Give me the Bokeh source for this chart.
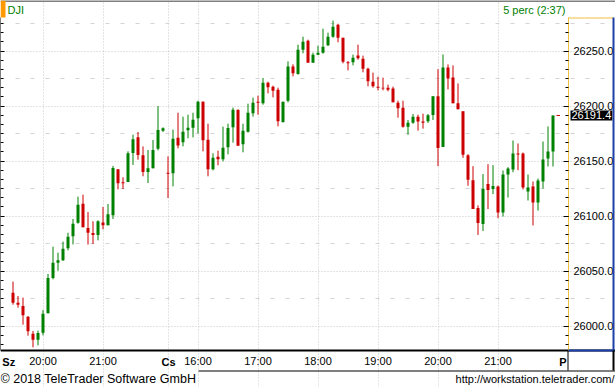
from bokeh.plotting import figure
from bokeh.models import (Range1d, LinearAxis, FixedTicker, SingleIntervalTicker, Grid,
                          Label, BoxAnnotation, ColumnDataSource, PrintfTickFormatter)
from bokeh.embed import file_html
from bokeh.resources import INLINE

# ---- data: 5-minute DJI candles ----
opens = [26030.3, 26021.2, 26018.2, 26008.5, 25993.0, 25987.6, 25993.9, 26011.5, 26043.6, 26057.6,
         26059.7, 26070.6, 26081.5, 26093.9, 26111.2, 26089.0, 26084.5, 26082.7, 26094.2, 26091.5,
         26100.6, 26142.4, 26130.6, 26130.9, 26157.3, 26171.5, 26155.2, 26140.0, 26143.3, 26161.2,
         26177.6, 26139.4, 26138.8, 26171.2, 26167.0, 26177.9, 26180.3, 26188.8, 26203.9, 26169.4,
         26142.4, 26153.9, 26151.5, 26162.4, 26180.6, 26196.7, 26165.2, 26176.7, 26193.3, 26203.9,
         26202.4, 26221.2, 26217.6, 26214.8, 26185.5, 26204.8, 26235.8, 26229.1, 26251.2, 26259.4,
         26239.4, 26246.7, 26248.5, 26255.2, 26263.0, 26273.9, 26262.1, 26239.7, 26239.7, 26245.8,
         26243.0, 26233.9, 26222.1, 26217.6, 26216.7, 26216.7, 26215.8, 26203.0, 26198.5, 26181.2,
         26184.8, 26190.3, 26185.8, 26186.1, 26191.8, 26208.8, 26162.8, 26235.0, 26226.0, 26202.4,
         26195.2, 26155.3, 26132.6, 26107.3, 26092.7, 26129.0, 26124.5, 26126.8, 26103.2, 26137.7,
         26142.3, 26156.8, 26156.8, 26122.3, 26126.8, 26112.3, 26131.4, 26152.3, 26158.6]
highs = [26040.3, 26027.3, 26025.8, 26009.0, 25995.5, 25995.8, 26014.5, 26047.3, 26072.1, 26066.7,
         26076.7, 26084.8, 26097.3, 26117.6, 26119.4, 26103.6, 26095.2, 26096.1, 26108.2, 26110.9,
         26145.5, 26142.4, 26135.2, 26158.8, 26173.9, 26176.4, 26163.3, 26160.0, 26169.1, 26200.0,
         26180.6, 26154.2, 26178.5, 26193.9, 26190.3, 26192.1, 26193.9, 26204.8, 26204.2, 26183.9,
         26157.0, 26159.4, 26181.2, 26183.9, 26198.5, 26196.7, 26183.9, 26202.1, 26207.6, 26209.4,
         26225.5, 26222.1, 26218.5, 26216.7, 26203.9, 26240.6, 26237.9, 26255.8, 26263.0, 26260.3,
         26248.5, 26254.8, 26270.3, 26266.7, 26277.6, 26274.8, 26262.1, 26240.9, 26246.7, 26255.8,
         26245.8, 26234.8, 26230.3, 26226.7, 26225.8, 26219.4, 26217.6, 26204.8, 26204.8, 26187.3,
         26192.7, 26192.1, 26193.0, 26192.7, 26208.8, 26233.5, 26246.8, 26237.8, 26236.9, 26220.5,
         26195.2, 26156.2, 26145.3, 26109.7, 26138.1, 26147.1, 26146.2, 26127.7, 26141.4, 26144.4,
         26168.6, 26165.9, 26157.7, 26137.7, 26131.4, 26134.1, 26167.7, 26181.4, 26191.4]
lows = [26019.4, 26016.7, 26001.2, 25991.2, 25980.6, 25982.4, 25991.5, 26011.5, 26042.4, 26050.3,
        26059.1, 26068.8, 26074.2, 26093.0, 26089.7, 26074.0, 26074.5, 26077.9, 26087.9, 26091.5,
        26097.3, 26124.2, 26124.5, 26130.9, 26146.4, 26151.2, 26136.1, 26130.0, 26143.3, 26159.7,
        26176.4, 26116.4, 26127.0, 26161.5, 26163.3, 26170.6, 26171.5, 26175.2, 26158.8, 26136.1,
        26141.5, 26146.1, 26149.7, 26156.1, 26166.7, 26163.9, 26157.9, 26175.8, 26190.3, 26192.1,
        26201.2, 26211.5, 26207.9, 26181.5, 26184.8, 26203.3, 26227.0, 26228.5, 26247.9, 26239.4,
        26239.4, 26246.1, 26247.6, 26254.5, 26262.1, 26257.9, 26238.8, 26232.4, 26237.0, 26242.1,
        26230.6, 26217.9, 26216.7, 26214.2, 26214.2, 26213.3, 26203.3, 26189.4, 26180.3, 26173.9,
        26183.9, 26177.6, 26179.4, 26184.6, 26187.3, 26145.3, 26162.8, 26215.1, 26202.4, 26197.0,
        26152.9, 26127.5, 26106.3, 26082.8, 26086.4, 26106.3, 26119.9, 26098.0, 26099.5, 26116.8,
        26139.8, 26141.7, 26124.1, 26114.1, 26091.4, 26105.0, 26125.0, 26145.0, 26145.0]
closes = [26021.2, 26019.4, 26009.7, 25995.2, 25987.6, 25993.6, 26011.2, 26043.6, 26057.6, 26059.7,
          26070.3, 26081.2, 26093.0, 26110.3, 26089.7, 26084.8, 26082.7, 26095.2, 26091.5, 26101.5,
          26143.6, 26129.7, 26129.7, 26157.0, 26169.7, 26155.5, 26140.0, 26143.3, 26160.0, 26178.2,
          26179.7, 26138.5, 26170.3, 26164.2, 26176.7, 26180.3, 26187.6, 26203.9, 26168.8, 26142.4,
          26153.0, 26151.5, 26162.1, 26180.0, 26196.7, 26163.9, 26177.6, 26193.9, 26203.0, 26203.0,
          26221.2, 26217.0, 26213.9, 26186.1, 26203.9, 26235.8, 26229.7, 26251.2, 26258.5, 26239.4,
          26246.7, 26248.5, 26253.9, 26263.0, 26272.1, 26262.1, 26240.3, 26238.8, 26243.9, 26243.3,
          26233.9, 26222.4, 26217.9, 26216.7, 26215.8, 26214.8, 26203.3, 26197.9, 26181.2, 26184.8,
          26190.3, 26185.8, 26184.8, 26191.5, 26208.8, 26161.9, 26235.0, 26225.1, 26202.4, 26197.0,
          26155.6, 26132.9, 26106.3, 26093.7, 26124.5, 26123.6, 26127.2, 26103.2, 26137.7, 26143.2,
          26156.8, 26155.9, 26125.9, 26125.9, 26112.3, 26132.3, 26151.4, 26158.6, 26191.4]

time_ticks = [6, 18, 37, 49, 61, 73, 85, 97]
time_labels = ["20:00", "21:00", "16:00", "17:00", "18:00", "19:00", "20:00", "21:00"]
day_ticks = [-0.85, 31.1, 110.0]
day_labels = ["Sz", "Cs", "P"]
vgrid_ticks = [6, 18, 31, 37, 49, 61, 73, 85, 97]
price_ticks = [26000, 26050, 26100, 26150, 26200, 26250]
half_ticks = [26025, 26075, 26125, 26175, 26225, 26275]

GREEN = "#008000"
RED = "#cc0000"
YELLOW = "#f0c040"
BLUE = "#1c3fa8"
GRID = "#c8c8c8"
FONT = "Liberation Sans"

# ---- canvas geometry (pixels) ----
W, H = 615, 387
PL, PR, PT, PB = 0, 568, 17, 350      # plot area edges


def xv(px):            # canvas x -> candle index
    return (px - 12.5) / 5.0


def yv(py):            # canvas y -> price
    return 26000.0 + (325.5 - py) / 1.1


n = len(opens)
idx = list(range(n))
src = ColumnDataSource(dict(
    x=idx, high=highs, low=lows,
    top=[max(o, c) for o, c in zip(opens, closes)],
    bottom=[min(o, c) for o, c in zip(opens, closes)],
    color=[GREEN if c >= o else RED for o, c in zip(opens, closes)],
))

p = figure(width=W, height=H, output_backend="svg", toolbar_location=None,
           x_range=Range1d(xv(0), xv(W)), y_range=Range1d(yv(H), yv(0)),
           x_axis_location=None, y_axis_location=None, min_border=0)
p.outline_line_color = None
p.background_fill_color = "white"
p.border_fill_color = "white"
p.grid.visible = False

xb = (xv(PL), xv(PR))
yb = (yv(PB), yv(PT))

# grids limited to the plot area
p.add_layout(Grid(dimension=0, ticker=FixedTicker(ticks=vgrid_ticks), bounds=yb,
                  grid_line_color=GRID, grid_line_dash="1 2"))
p.add_layout(Grid(dimension=1, ticker=FixedTicker(ticks=price_ticks), bounds=xb,
                  grid_line_color=GRID, grid_line_dash="1 2"))
p.add_layout(Grid(dimension=1, ticker=FixedTicker(ticks=half_ticks), bounds=xb,
                  grid_line_color="#d4d4d4", grid_line_dash="4 11"))

# right price axis
ya = LinearAxis(fixed_location=xv(PR), bounds=yb,
                ticker=SingleIntervalTicker(interval=50, num_minor_ticks=6),
                formatter=PrintfTickFormatter(format="%.1f"),
                major_tick_in=5, major_tick_out=0, minor_tick_in=3, minor_tick_out=0,
                axis_line_color=YELLOW, major_tick_line_color="black",
                minor_tick_line_color="black", major_label_standoff=5,
                major_label_text_font=FONT, major_label_text_font_size="11px",
                major_label_text_color="black")
p.add_layout(ya, "right")

# left tick-only axis
la = LinearAxis(fixed_location=xv(PL), bounds=yb,
                ticker=SingleIntervalTicker(interval=50, num_minor_ticks=6),
                major_label_text_color=None,
                major_tick_in=4, major_tick_out=0, minor_tick_in=3, minor_tick_out=0,
                axis_line_color="black", major_tick_line_color="black",
                minor_tick_line_color="black")
p.add_layout(la, "left")

# bottom time axis
xa = LinearAxis(fixed_location=yv(PB), bounds=(xv(0), xv(W)),
                ticker=FixedTicker(ticks=time_ticks),
                major_label_overrides={t: l for t, l in zip(time_ticks, time_labels)},
                major_tick_in=0, major_tick_out=0, minor_tick_line_color=None,
                axis_line_width=2, axis_line_color="black", major_label_standoff=4,
                major_label_text_font=FONT, major_label_text_font_size="11px",
                major_label_text_color="black")
p.add_layout(xa, "below")

# candles
p.segment(x0="x", y0="low", x1="x", y1="high", line_color="color", line_width=1, source=src)
p.vbar(x="x", width=0.6, top="top", bottom="bottom", fill_color="color",
       line_color=None, source=src)

# last price marker
last = closes[-1]
p.segment(x0=[n - 1 + 0.7], x1=[n - 1 + 1.4], y0=[last], y1=[last], line_color=RED, line_width=1)


# frame decorations
def box(l, r, t, b, color):
    p.add_layout(BoxAnnotation(left=l, right=r, top=t, bottom=b, left_units="canvas",
                               right_units="canvas", top_units="canvas", bottom_units="canvas",
                               fill_color=color, fill_alpha=1, line_color=None))


box(0, W, 0, 1, "black")
box(0, 5, 0, 17, "#ff9900")
box(PR, 613, PT, PT + 1, YELLOW)
box(612, 614, PT, PB, BLUE)
box(PR, 614, PB - 1, PB + 1, BLUE)
box(PR - 1, PR, PB, 370, "black")
box(198, W, 370, 371, "black")
box(612, 614, PB, 370, "black")

p.add_layout(Label(x=570, x_units="canvas", y=last, y_units="data", text=f"{last:.1f}",
                   text_color="white", background_fill_color="black",
                   background_fill_alpha=1.0, text_baseline="middle", padding=1,
                   text_font=FONT, text_font_size="11px"))

# day labels on the time axis
for d, t in zip(day_ticks, day_labels):
    p.add_layout(Label(x=d, x_units="data", y=361, y_units="canvas", text=t, text_align="center",
                       text_baseline="middle", text_font=FONT, text_font_size="11px",
                       text_font_style="bold", text_color="black"))

# header / footer texts
p.add_layout(Label(x=7, y=9, x_units="canvas", y_units="canvas", text="DJI", text_color=GREEN,
                   text_font=FONT, text_font_size="11px", text_baseline="middle"))
p.add_layout(Label(x=565, y=9, x_units="canvas", y_units="canvas", text="5 perc (2:37)",
                   text_color=GREEN, text_font=FONT, text_font_size="11px",
                   text_baseline="middle", text_align="right"))
p.add_layout(Label(x=0, y=378, x_units="canvas", y_units="canvas",
                   text="\u00a9 2018 TeleTrader Software GmbH", text_color="black",
                   text_font=FONT, text_font_size="12.5px", text_baseline="middle"))
p.add_layout(Label(x=614, y=378, x_units="canvas", y_units="canvas",
                   text="http://workstation.teletrader.com/", text_color="black",
                   text_font=FONT, text_font_size="11px", text_baseline="middle",
                   text_align="right"))

open("out.html", "w").write(file_html(p, INLINE))
